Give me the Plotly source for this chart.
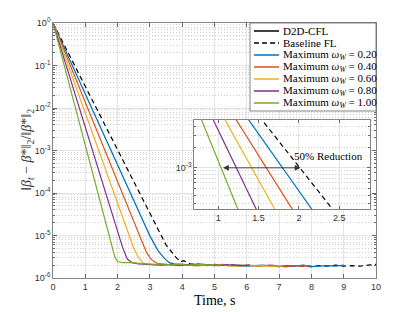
import math
import plotly.graph_objects as go

# ---------------- data ----------------
t_base = [0, 0.5, 1.0, 1.5, 2.0, 2.5, 3.0, 3.5, 3.8, 3.95, 4.05, 4.25,
          4.5, 4.75, 5.0, 5.25, 5.5, 5.75, 6.0, 6.25, 6.5, 6.75, 7.0, 7.25,
          7.5, 7.75, 8.0, 8.25, 8.5, 8.75, 9.0, 9.25, 9.5, 9.75, 10.0]
y_base = [1.0, 0.18, 3.2e-2, 5.8e-3, 1.05e-3, 1.9e-4, 3.4e-5, 6.0e-6, 3.1e-6, 2.4e-6, 2.55e-6, 2.15e-6,
          2.1e-6, 2.05e-6, 2.1e-6, 2.0e-6, 2.05e-6, 1.95e-6, 2.0e-6, 1.9e-6, 1.95e-6, 2.0e-6, 1.9e-6, 1.85e-6,
          1.95e-6, 1.9e-6, 1.85e-6, 1.95e-6, 1.9e-6, 2.0e-6, 1.9e-6, 1.95e-6, 1.9e-6, 2.0e-6, 2.1e-6]

t_w20 = [0, 0.5, 1.0, 1.5, 1.8, 2.1, 2.5, 3.0, 3.25, 3.45, 3.6, 3.75,
         4.0, 4.25, 4.5, 4.75, 5.0, 5.25, 5.5, 5.75, 6.0, 6.25, 6.5, 6.75,
         7.0, 7.25, 7.5, 7.75, 8.0, 8.25, 8.5, 8.75, 9.0]
y_w20 = [1.0, 0.146, 2.14e-2, 3.2e-3, 1.0e-3, 3.2e-4, 6.7e-5, 9.8e-6, 4.4e-6, 2.9e-6, 2.3e-6, 2.15e-6,
         2.1e-6, 2.05e-6, 2.15e-6, 2.0e-6, 1.95e-6, 2.05e-6, 1.95e-6, 2.0e-6, 1.9e-6, 1.95e-6, 2.0e-6, 1.9e-6,
         1.85e-6, 1.95e-6, 1.9e-6, 2.0e-6, 1.85e-6, 1.9e-6, 1.95e-6, 1.9e-6, 2.0e-6]

t_w40 = [0, 0.5, 1.0, 1.3, 1.6, 1.9, 2.3, 2.7, 2.9, 3.05, 3.2, 3.4,
         3.75, 4.0, 4.25, 4.5, 4.75, 5.0, 5.25, 5.5, 5.75, 6.0, 6.25, 6.5,
         6.75, 7.0, 7.25, 7.5, 7.75, 8.0]
y_w40 = [1.0, 0.115, 1.32e-2, 3.6e-3, 9.8e-4, 2.7e-4, 4.7e-5, 8.4e-6, 3.9e-6, 2.7e-6, 2.25e-6, 2.1e-6,
         2.05e-6, 2.1e-6, 2.0e-6, 2.05e-6, 1.95e-6, 2.0e-6, 2.1e-6, 1.95e-6, 1.9e-6, 2.0e-6, 1.95e-6, 1.9e-6,
         2.0e-6, 1.95e-6, 1.85e-6, 1.95e-6, 1.9e-6, 1.95e-6]

t_w60 = [0, 0.5, 0.9, 1.2, 1.45, 1.7, 2.0, 2.3, 2.5, 2.65, 2.8, 3.0,
         3.25, 3.5, 3.75, 4.0, 4.25, 4.5, 4.75, 5.0, 5.25, 5.5, 5.75, 6.0,
         6.25, 6.5, 6.75, 7.0, 7.1]
y_w60 = [1.0, 8.7e-2, 1.24e-2, 2.86e-3, 8.4e-4, 2.5e-4, 5.8e-5, 1.33e-5, 5.0e-6, 3.0e-6, 2.25e-6, 2.05e-6,
         2.0e-6, 2.1e-6, 1.95e-6, 2.05e-6, 2.0e-6, 1.9e-6, 2.05e-6, 1.95e-6, 2.0e-6, 1.9e-6, 1.95e-6, 2.0e-6,
         1.9e-6, 1.95e-6, 1.85e-6, 1.95e-6, 1.9e-6]

t_w80 = [0, 0.4, 0.8, 1.05, 1.25, 1.5, 1.75, 2.0, 2.15, 2.3, 2.45, 2.65,
         2.9, 3.15, 3.4, 3.65, 3.9, 4.15, 4.4, 4.65, 4.9, 5.15, 5.4, 5.65, 5.9, 6.1]
y_w80 = [1.0, 0.105, 1.1e-2, 2.7e-3, 8.7e-4, 2.1e-4, 5.1e-5, 1.26e-5, 5.4e-6, 2.8e-6, 2.3e-6, 2.15e-6,
         2.1e-6, 2.05e-6, 2.0e-6, 2.1e-6, 1.95e-6, 2.05e-6, 2.0e-6, 2.1e-6, 2.0e-6, 1.95e-6, 2.05e-6, 2.0e-6, 1.95e-6, 2.0e-6]

t_w100 = [0, 0.35, 0.7, 0.9, 1.05, 1.25, 1.5, 1.7, 1.82, 1.92, 2.0, 2.15, 2.4,
          2.65, 2.9, 3.15, 3.4, 3.65, 3.9, 4.15, 4.4, 4.65, 4.9, 5.15, 5.2]
y_w100 = [1.0, 9.7e-2, 9.3e-3, 2.45e-3, 9.0e-4, 2.4e-4, 4.5e-5, 1.17e-5, 5.3e-6, 3.0e-6, 2.45e-6, 2.3e-6, 2.3e-6,
          2.2e-6, 2.15e-6, 2.1e-6, 2.15e-6, 2.05e-6, 2.1e-6, 2.0e-6, 2.05e-6, 2.1e-6, 2.0e-6, 2.05e-6, 2.0e-6]

legend_labels = ["D2D-CFL", "Baseline FL",
                 "Maximum <i>ω</i><sub><i>W</i></sub> = 0.20",
                 "Maximum <i>ω</i><sub><i>W</i></sub> = 0.40",
                 "Maximum <i>ω</i><sub><i>W</i></sub> = 0.60",
                 "Maximum <i>ω</i><sub><i>W</i></sub> = 0.80",
                 "Maximum <i>ω</i><sub><i>W</i></sub> = 1.00"]
x_ticks = list(range(0, 11))
y_ticks_exp = [-6, -5, -4, -3, -2, -1, 0]
inset_x_ticks = [1, 1.5, 2, 2.5]
arrow_level = 1e-3
arrow_from = 1.04
arrow_to = 2.02
annot_text = "50% Reduction"

# ---------------- styling ----------------
C_BLUE, C_ORANGE, C_YELLOW, C_PURPLE, C_GREEN = "#0072BD", "#D95319", "#EDB120", "#7E2F8E", "#77AC30"
legend_colors = ["black", "black", C_BLUE, C_ORANGE, C_YELLOW, C_PURPLE, C_GREEN]
legend_dash = ["solid", "5px,3px", "solid", "solid", "solid", "solid", "solid"]

series = [
    (t_base, y_base, "black", "5px,3.5px"),
    (t_w20, y_w20, C_BLUE, "solid"),
    (t_w40, y_w40, C_ORANGE, "solid"),
    (t_w60, y_w60, C_YELLOW, "solid"),
    (t_w80, y_w80, C_PURPLE, "solid"),
    (t_w100, y_w100, C_GREEN, "solid"),
]

W, H = 415, 312
L, R, T, B = 53, 39, 23, 34
PW, PH = W - L - R, H - T - B


def px(xp):
    return (xp - L) / PW


def py(yp):
    return (H - B - yp) / PH


fig = go.Figure()
for t, y, c, d in series:
    fig.add_trace(go.Scatter(x=t, y=y, mode="lines", line=dict(color=c, width=1.2, dash=d),
                             showlegend=False, hoverinfo="skip", xaxis="x", yaxis="y"))
for t, y, c, d in series:
    fig.add_trace(go.Scatter(x=t, y=y, mode="lines", line=dict(color=c, width=1.2, dash=d),
                             showlegend=False, hoverinfo="skip", xaxis="x2", yaxis="y2"))

AX = "#666666"
TICKF = dict(family="Liberation Sans, Arial, sans-serif", size=9, color="#333333")
GRID = "#e4e4e4"
MINOR_GRID = "#cfcfcf"
SERIF = "Liberation Serif, DejaVu Serif, serif"

minor_main = [m * 10.0 ** e for e in range(-6, 0) for m in range(2, 10)]
minor_inset = [m * 1e-4 for m in range(3, 10)] + [m * 1e-3 for m in range(2, 6)]

fig.update_layout(
    width=W, height=H, margin=dict(l=L, r=R, t=T, b=B),
    paper_bgcolor="white", plot_bgcolor="white", showlegend=False,
    xaxis=dict(range=[0, 10], tickvals=x_ticks, ticks="inside", ticklen=4, tickcolor=AX,
               showline=True, linecolor=AX, linewidth=0.8, mirror="allticks",
               showgrid=True, gridcolor=GRID, gridwidth=1, zeroline=False, tickfont=TICKF),
    yaxis=dict(type="log", range=[-6, 0], tickvals=[10.0 ** e for e in y_ticks_exp],
               ticktext=["10<sup>%d</sup>" % e for e in y_ticks_exp],
               ticks="inside", ticklen=4, tickcolor=AX,
               showline=True, linecolor=AX, linewidth=0.8, mirror="allticks",
               showgrid=True, gridcolor=GRID, gridwidth=1, zeroline=False, tickfont=TICKF,
               minor=dict(tickmode="array", tickvals=minor_main, ticks="inside", ticklen=2,
                          tickcolor=AX, showgrid=True, gridcolor=MINOR_GRID, griddash="1px,2px", gridwidth=1)),
    xaxis2=dict(domain=[px(194), px(370)], anchor="y2", range=[0.7, 2.88],
                tickvals=inset_x_ticks, ticktext=[("%g" % v) for v in inset_x_ticks],
                ticks="inside", ticklen=3, tickcolor=AX,
                showline=True, linecolor=AX, linewidth=0.8, mirror="allticks",
                showgrid=True, gridcolor=GRID, zeroline=False, tickfont=TICKF),
    yaxis2=dict(domain=[py(209), py(120)], anchor="x2", type="log", range=[-3.602, -2.301],
                tickvals=[1e-3], ticktext=["10<sup>-3</sup>"],
                ticks="inside", ticklen=3, tickcolor=AX,
                showline=True, linecolor=AX, linewidth=0.8, mirror="allticks",
                showgrid=True, gridcolor=GRID, zeroline=False, tickfont=TICKF,
                minor=dict(tickmode="array", tickvals=minor_inset, ticks="inside", ticklen=2,
                           tickcolor=AX, showgrid=True, gridcolor=MINOR_GRID, griddash="1px,2px", gridwidth=1)),
)

shapes = []
shapes.append(dict(type="rect", xref="x2 domain", yref="y2 domain", x0=0, x1=1, y0=0, y1=1,
                   fillcolor="white", line=dict(width=0), layer="below"))
shapes.append(dict(type="rect", xref="paper", yref="paper", x0=px(250), x1=px(376), y0=py(111), y1=py(23),
                   fillcolor="white", line=dict(color=AX, width=0.8), layer="above"))
annotations = []
for i, (lab, col, dsh) in enumerate(zip(legend_labels, legend_colors, legend_dash)):
    yy = py(31 + 12 * i)
    shapes.append(dict(type="line", xref="paper", yref="paper", x0=px(254), x1=px(279), y0=yy, y1=yy,
                       line=dict(color=col, width=1.5, dash=dsh), layer="above"))
    annotations.append(dict(xref="paper", yref="paper", x=px(280.5), y=yy, text=lab, showarrow=False,
                            xanchor="left", yanchor="middle",
                            font=dict(family=SERIF, size=11, color="black")))

annotations.append(dict(xref="x2", yref="y2", axref="x2", ayref="y2",
                        x=arrow_to, y=math.log10(arrow_level), ax=arrow_from, ay=math.log10(arrow_level),
                        text="", showarrow=True, arrowhead=2, arrowside="end+start", arrowsize=1.3,
                        arrowwidth=0.9, arrowcolor="#333333", standoff=0, startstandoff=0))
annotations.append(dict(xref="x2", yref="y2", x=2.36, y=-2.82, text=annot_text, showarrow=False,
                        xanchor="center", yanchor="middle",
                        font=dict(family=SERIF, size=11, color="black")))
annotations.append(dict(xref="paper", yref="paper", x=px(215), y=py(300), text="Time, s", showarrow=False,
                        xanchor="center", yanchor="middle",
                        font=dict(family=SERIF, size=14, color="black")))
annotations.append(dict(xref="paper", yref="paper", x=px(27), y=py(150), textangle=-90,
                        text="‖<i>β</i><sub><i>t</i></sub> − <i>β</i>*‖<sub>2</sub>/‖<i>β</i>*‖<sub>2</sub>",
                        showarrow=False, xanchor="center", yanchor="middle",
                        font=dict(family=SERIF, size=14, color="#333333")))

fig.update_layout(shapes=shapes, annotations=annotations)
fig.write_html("out.html", config={"displayModeBar": False, "staticPlot": True},
               post_script="document.body.style.margin='0';document.body.style.overflow='hidden';")
